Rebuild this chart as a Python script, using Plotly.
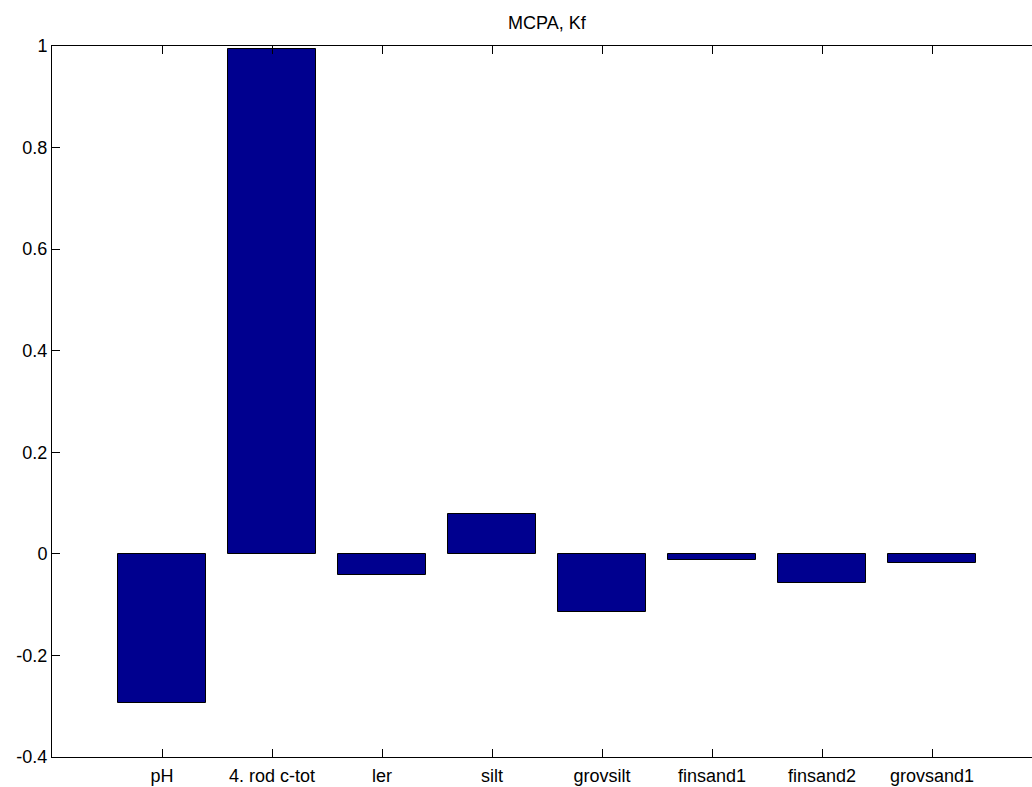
import plotly.graph_objects as go

# Regression coefficients for MCPA sorption (Kf)
categories = ["pH", "4. rod c-tot", "ler", "silt", "grovsilt", "finsand1", "finsand2", "grovsand1"]
coefficients = [-0.294, 0.994, -0.041, 0.079, -0.1135, -0.013, -0.058, -0.018]
y_tick_values = [-0.4, -0.2, 0, 0.2, 0.4, 0.6, 0.8, 1]
y_tick_labels = ["-0.4", "-0.2", "0", "0.2", "0.4", "0.6", "0.8", "1"]

positions = list(range(1, len(categories) + 1))
font_family = "Liberation Sans, Arial, Helvetica, sans-serif"

fig = go.Figure(
    go.Bar(
        x=positions,
        y=coefficients,
        width=0.8,
        marker=dict(color="rgb(0,0,143)", line=dict(color="black", width=1)),
        hoverinfo="skip",
    )
)

fig.update_layout(
    width=1032,
    height=787,
    margin=dict(l=52, r=0, t=46, b=30),
    plot_bgcolor="white",
    paper_bgcolor="white",
    showlegend=False,
    font=dict(family=font_family, size=18, color="black"),
    bargap=0,
)

fig.update_xaxes(
    range=[0, 8.909],
    tickmode="array",
    tickvals=positions,
    ticktext=categories,
    ticks="inside",
    ticklen=8,
    tickcolor="black",
    showline=True,
    linecolor="black",
    linewidth=1,
    mirror="ticks",
    showgrid=False,
    zeroline=False,
    tickfont=dict(size=18),
    ticklabelstandoff=2,
)

fig.update_yaxes(
    range=[-0.4, 1.0],
    tickmode="array",
    tickvals=y_tick_values,
    ticktext=y_tick_labels,
    ticks="inside",
    ticklen=8,
    tickcolor="black",
    showline=True,
    linecolor="black",
    linewidth=1,
    mirror=False,
    showgrid=False,
    zeroline=False,
    tickfont=dict(size=18),
)

fig.add_annotation(
    text="MCPA, Kf",
    x=4.5,
    xref="x",
    y=1,
    yref="paper",
    yanchor="bottom",
    yshift=11,
    showarrow=False,
    font=dict(size=18, family=font_family, color="black"),
)

fig.write_html("out.html", config={"displayModeBar": False})
